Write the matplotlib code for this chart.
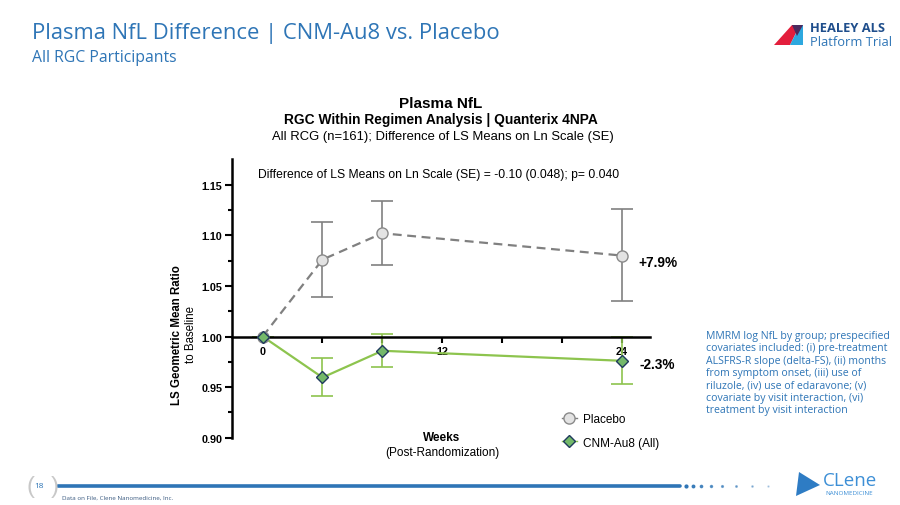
import numpy as np
import matplotlib.pyplot as plt
from matplotlib.lines import Line2D
from matplotlib.patches import Polygon

# data
weeks = [0, 4, 8, 24]
placebo = [1.000, 1.076, 1.102, 1.080]
placebo_lo = [1.000, 1.0395, 1.0707, 1.0349]
placebo_hi = [1.000, 1.1135, 1.134, 1.1257]
cnm = [1.000, 0.9595, 0.9859, 0.976]
cnm_lo = [1.000, 0.9408, 0.9697, 0.9533]
cnm_hi = [1.000, 0.979, 1.002, 1.000]
end_labels = ['+7.9%', '-2.3%']
x_ticks = [0, 4, 8, 12, 16, 20, 24]
x_ticklabels = ['0', '', '', '12', '', '', '24']
y_ticks = [0.90, 0.95, 1.00, 1.05, 1.10, 1.15]

W, H = 900, 506
BLUE = '#2E75B6'
GREY = '#808080'
GREEN = '#8DC44E'


def fx(x):
    return x / W


def fy(y):
    return 1 - y / H


plt.rcParams['font.family'] = ['Liberation Sans', 'DejaVu Sans']

fig = plt.figure(figsize=(9, 5.06), dpi=100)
fig.patch.set_facecolor('white')

# slide heading
slide_font = ['Open Sans', 'DejaVu Sans']
fig.text(fx(32), fy(33), 'Plasma NfL Difference | CNM-Au8 vs. Placebo', color=BLUE,
         fontsize=15.8, family=slide_font, va='center', ha='left')
fig.text(fx(32), fy(58), 'All RGC Participants', color=BLUE,
         fontsize=11.3, family=slide_font, va='center', ha='left')

# chart headings
fig.text(fx(441), fy(104), 'Plasma NfL', fontsize=11, weight='bold', ha='center', va='center')
fig.text(fx(441), fy(120), 'RGC Within Regimen Analysis | Quanterix 4NPA', fontsize=9.9,
         weight='bold', ha='center', va='center')
fig.text(fx(443), fy(137), 'All RCG (n=161); Difference of LS Means on Ln Scale (SE)',
         fontsize=9.4, ha='center', va='center')

# main axes
ax = fig.add_axes([fx(232), fy(160) - (438.7 - 160) / H, (650 - 232) / W, (438.7 - 160) / H])
ax.set_facecolor('none')
ax.set_xlim(-2.05, 25.9)
ax.set_ylim(0.90, 1.1754)

ax.plot(weeks, placebo, color=GREY, lw=1.6, ls=(0, (4, 2.5)), zorder=3)
ax.errorbar(weeks, placebo,
            yerr=[np.subtract(placebo, placebo_lo), np.subtract(placebo_hi, placebo)],
            fmt='none', ecolor=GREY, elinewidth=1.2, capsize=8, capthick=1.2, zorder=2)
ax.plot(weeks, placebo, ls='none', marker='o', ms=8, mfc='#E3E3E3', mec='#8A8A8A',
        mew=1.0, zorder=5)

ax.plot(weeks, cnm, color=GREEN, lw=1.6, zorder=4)
ax.errorbar(weeks, cnm,
            yerr=[np.subtract(cnm, cnm_lo), np.subtract(cnm_hi, cnm)],
            fmt='none', ecolor=GREEN, elinewidth=1.2, capsize=8, capthick=1.2, zorder=2)
ax.plot(weeks, cnm, ls='none', marker='D', ms=6.5, mfc='#74B96A', mec='#1F3A5C',
        mew=1.0, zorder=6)

for s in ['top', 'right']:
    ax.spines[s].set_visible(False)
ax.spines['bottom'].set_position(('data', 1.0))
ax.spines['bottom'].set_linewidth(1.8)
ax.spines['left'].set_linewidth(1.8)
ax.spines['bottom'].set_zorder(3.5)

ax.set_xticks(x_ticks)
ax.set_xticklabels(x_ticklabels, fontsize=7.8, weight='bold')
ax.tick_params(axis='x', direction='out', length=4, width=1.5, pad=2.5)
ax.set_yticks(y_ticks)
ax.set_yticklabels([f'{v:.2f}' for v in y_ticks], fontsize=7.8, weight='bold')
ax.set_yticks([v + 0.025 for v in y_ticks[:-1]], minor=True)
ax.tick_params(axis='y', which='major', direction='out', length=5, width=1.5, pad=2)
ax.tick_params(axis='y', which='minor', direction='out', length=3, width=1.5)

ax.text((438.5 - 232) / (650 - 232), 0.945,
        'Difference of LS Means on Ln Scale (SE) = -0.10 (0.048); p= 0.040',
        transform=ax.transAxes, ha='center', va='center', fontsize=8.7)
ax.annotate(end_labels[0], (weeks[-1], placebo[-1]), xytext=(12, -5), textcoords='offset points',
            fontsize=9.8, weight='bold', ha='left', va='center')
ax.annotate(end_labels[1], (weeks[-1], cnm[-1]), xytext=(13, -2), textcoords='offset points',
            fontsize=9.8, weight='bold', ha='left', va='center')

handles = [
    Line2D([], [], color=GREY, lw=1.0, marker='o', ms=8, mfc='#E3E3E3', mec='#8A8A8A'),
    Line2D([], [], color=GREEN, lw=1.0, marker='D', ms=6.5, mfc='#74B96A', mec='#1F3A5C'),
]
leg = ax.legend(handles, ['Placebo', 'CNM-Au8 (All)'], loc='center left', frameon=False,
                fontsize=8.5, handlelength=1.3, handletextpad=0.5, labelspacing=0.95)
leg.set_bbox_to_anchor(((551 - 232) / (650 - 232), (438.7 - 432) / (438.7 - 160)),
                       transform=ax.transAxes)

fig.text(fx(442), fy(438), 'Weeks', fontsize=8.5, weight='bold', ha='center', va='center')
fig.text(fx(442), fy(453), '(Post-Randomization)', fontsize=8.5, ha='center', va='center')
fig.text(fx(177), fy(335), 'LS Geometric Mean Ratio', fontsize=8.3, weight='bold',
         rotation=90, ha='center', va='center')
fig.text(fx(191), fy(335), 'to Baseline', fontsize=8.3, rotation=90, ha='center', va='center')

# method note
note = ('MMRM log NfL by group; prespecified\n'
        'covariates included: (i) pre-treatment\n'
        'ALSFRS-R slope (delta-FS), (ii) months\n'
        'from symptom onset, (iii) use of\n'
        'riluzole, (iv) use of edaravone; (v)\n'
        'covariate by visit interaction, (vi)\n'
        'treatment by visit interaction')
fig.text(fx(706), fy(331), note, color=BLUE, fontsize=7.6, family=slide_font,
         ha='left', va='top', linespacing=1.17)

# HEALEY ALS logo
fig.patches.append(Polygon([[fx(774), fy(46)], [fx(790), fy(46)], [fx(800), fy(26)], [fx(792), fy(26)]],
                           closed=True, facecolor='#E31E3C', transform=fig.transFigure))
fig.patches.append(Polygon([[fx(790), fy(46)], [fx(800), fy(26)], [fx(803), fy(26)], [fx(803), fy(46)]],
                           closed=True, facecolor='#2DA8DF', transform=fig.transFigure))
fig.patches.append(Polygon([[fx(792), fy(26)], [fx(803), fy(26)], [fx(797), fy(37)]],
                           closed=True, facecolor='#4B2A5E', transform=fig.transFigure))
fig.text(fx(810), fy(29), 'HEALEY ALS', color='#1F4E8C', fontsize=9.3, weight='bold',
         family=slide_font, va='center')
fig.text(fx(810), fy(42), 'Platform Trial', color='#2E75B6', fontsize=9.3,
         family=slide_font, va='center')

# footer
fig.text(fx(30), fy(487), '(', color='#C8C8C8', fontsize=17, ha='center', va='center', weight='light')
fig.text(fx(55), fy(487), ')', color='#C8C8C8', fontsize=17, ha='center', va='center', weight='light')
fig.text(fx(39), fy(487), '18', color=BLUE, fontsize=6, ha='center', va='center', family=slide_font)
fig.add_artist(Line2D([fx(58), fx(680)], [fy(487), fy(487)], color=BLUE, lw=2.6,
                      transform=fig.transFigure, solid_capstyle='round'))
for i, xd in enumerate([686, 693, 701, 711, 722, 736, 752, 768]):
    fig.add_artist(Line2D([fx(xd)], [fy(487)], marker='o', ms=2.0 - i * 0.18, color=BLUE,
                          alpha=1 - i * 0.1, transform=fig.transFigure))
fig.text(fx(62), fy(498), 'Data on File, Clene Nanomedicine, Inc.', color='#3A5A80',
         fontsize=4.5, family=slide_font, va='center')

# Clene logo
fig.patches.append(Polygon([[fx(796), fy(497)], [fx(820), fy(486)], [fx(799), fy(473)]],
                           closed=True, facecolor='#2E7CC4', transform=fig.transFigure))
fig.text(fx(823), fy(481), 'CLene', color='#3D8FD6', fontsize=13.5, family=slide_font, va='center')
fig.text(fx(825), fy(494), 'NANOMEDICINE', color='#3D8FD6', fontsize=4.5, family=slide_font, va='center')

fig.savefig('out.png', dpi=100)
